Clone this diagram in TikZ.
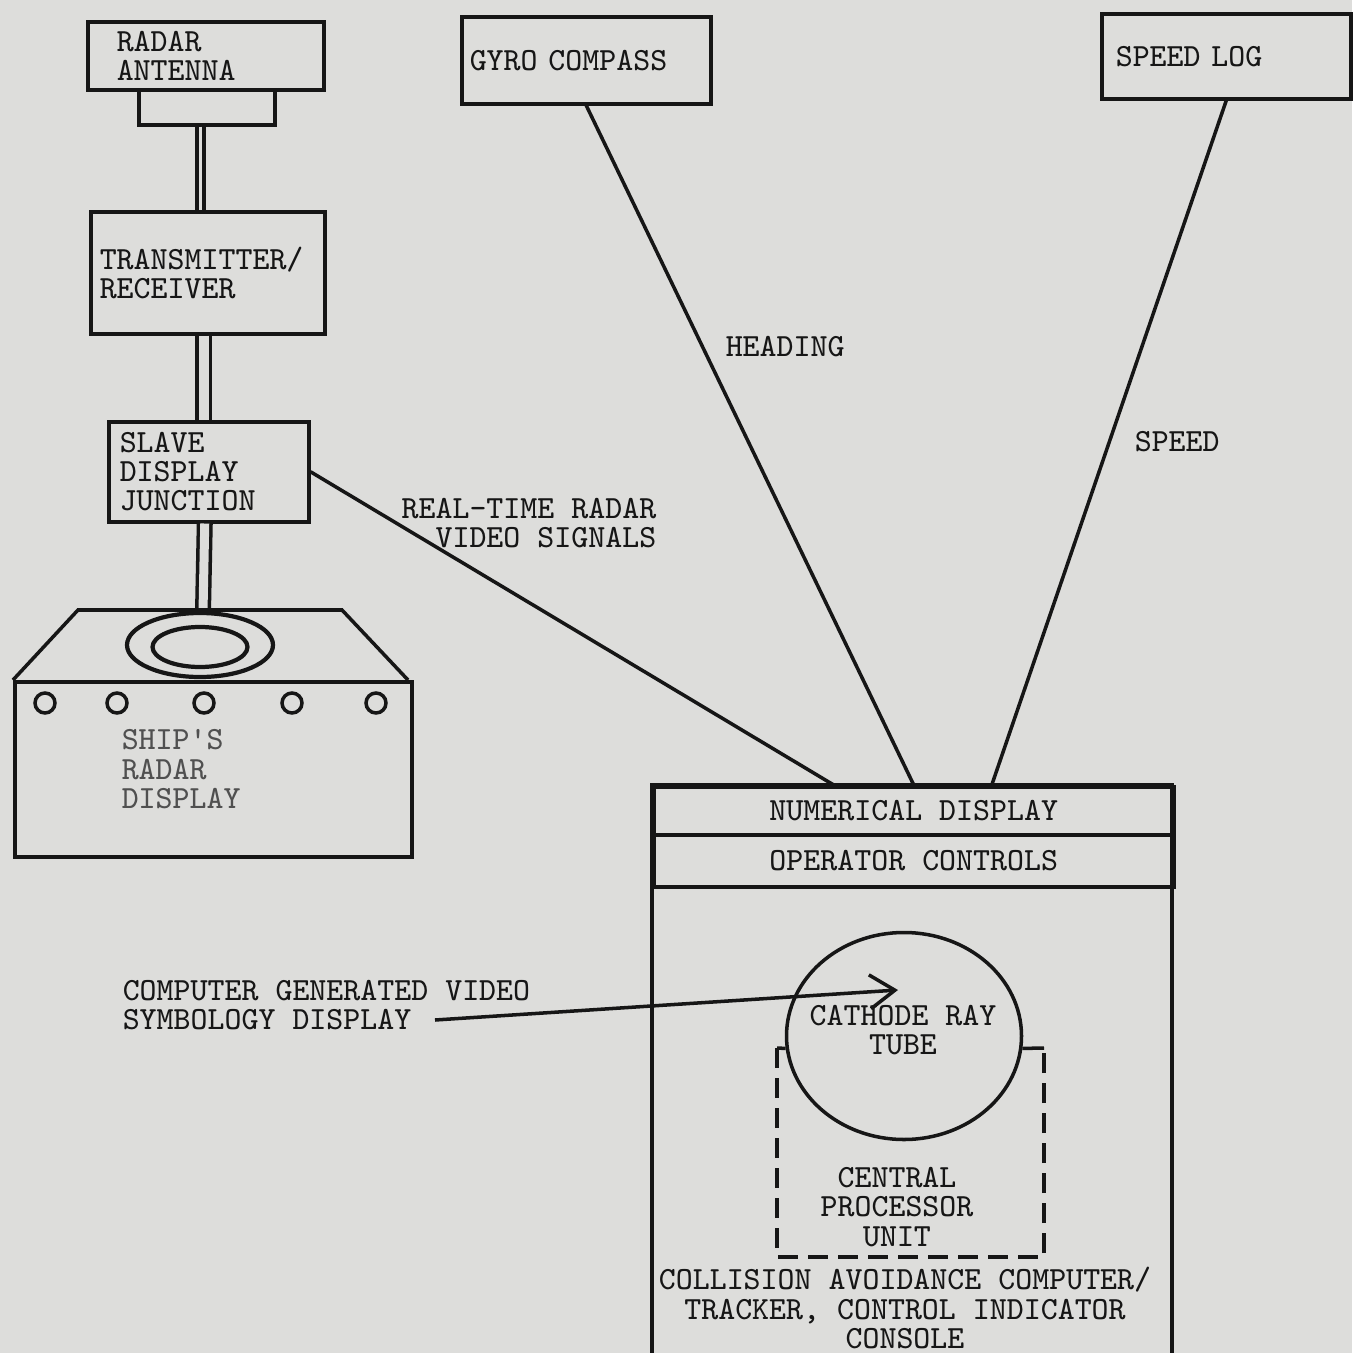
\documentclass[tikz,border=0pt]{standalone}
\usepackage{fontspec}
\usepackage{tikz}
\usetikzlibrary{positioning,arrows.meta,shapes.geometric}
\definecolor{paper}{RGB}{221,221,219}
\definecolor{ink}{RGB}{22,22,22}

\begin{document}
\begin{tikzpicture}[x=0.1mm, y=-0.1mm, line width=1pt, draw=ink,
    every node/.style={font=\ttfamily\fontsize{9.2}{8.3}\selectfont, text=ink, inner sep=0pt},
    unit/.style={draw, rectangle, anchor=north west, align=left, inner ysep=0pt},
    panel/.style={draw, rectangle, anchor=north west, inner sep=0pt},
    cable/.style={double=paper}]
    \useasboundingbox (0,0) rectangle (1352,1353);
    \fill[paper] (0,0) rectangle (1352,1353);

    % radar chain
    \node[unit, text width=17.8mm, inner xsep=2.9mm, minimum height=6.8mm] (ant) at (86,20) {RADAR\\ANTENNA};
    \node[panel, minimum width=13.6mm, minimum height=3.5mm] (antbase) at (137,88) {};
    \node[unit, text width=21.6mm, inner xsep=0.9mm, minimum height=12.2mm] (trx) at (89,210) {TRANSMITTER/\\RECEIVER};
    \node[unit, text width=17.8mm, inner xsep=1.1mm, minimum height=10mm] (slave) at (107,420) {SLAVE\\DISPLAY\\JUNCTION};
    \coordinate (dtop) at (203,612);

    \draw[cable, double distance=0.35mm] ([xshift=-0.65mm]antbase.south) -- ([xshift=-0.65mm]antbase.south |- trx.north);
    \draw[cable, double distance=0.95mm] ([xshift=-0.4mm]trx.south) -- ([xshift=-0.4mm]trx.south |- slave.north);
    \draw[cable, double distance=0.9mm] ([xshift=-0.4mm]slave.south) -- (dtop);

    % ship's radar display
    \draw (13,680) -- (78,610) -- (342,610) -- (408,680);
    \node[unit, text width=18.3mm, inner xsep=10.7mm, minimum height=17.5mm, text=ink!75] (shipdisp) at (13,680) {SHIP'S\\RADAR\\DISPLAY};
    \draw[line width=1.2pt] (200,645) ellipse [x radius=7.3mm, y radius=3.2mm];
    \draw[line width=1.2pt] (200,647) ellipse [x radius=4.75mm, y radius=2mm];
    \foreach \kx in {45,117,204,292,376}
        \draw (\kx,703) circle [radius=1mm];

    % sensors
    \node[unit, text width=23.3mm, inner xsep=0.8mm, minimum height=8.7mm] (gyro) at (460,15) {GYRO COMPASS};
    \node[unit, text width=22.1mm, inner xsep=1.4mm, minimum height=8.5mm] (log) at (1100,12) {SPEED LOG};

    % console
    \draw (652,785) rectangle (1172,1365);
    \node[panel, minimum width=52mm, minimum height=4.8mm] (numdisp) at (652,785) {NUMERICAL DISPLAY};
    \node[panel, minimum width=52mm, minimum height=5.2mm] (opctl) at (652,833) {OPERATOR CONTROLS};
    \node[draw, ellipse, minimum width=23.5mm, minimum height=20.7mm, inner sep=0pt] (crt) at (904,1036) {};
    \node[align=center] (crtlabel) at (903,1030) {CATHODE RAY\\TUBE};
    \draw (crt.186) -- (777,1048);
    \draw[dash pattern=on 2mm off 1mm] (777,1048) -- (777,1257) -- (1044,1257) -- (1044,1048);
    \draw (1044,1048) -- (crt.354);
    \node[align=center] (cpu) at (897,1207) {CENTRAL\\PROCESSOR\\UNIT};
    \node[align=center] (conslabel) at (905,1308) {COLLISION AVOIDANCE COMPUTER/\\TRACKER, CONTROL INDICATOR\\CONSOLE};

    % signals
    \draw (slave.east) -- ([xshift=-8mm]numdisp.north);
    \draw (gyro.south) -- (numdisp.north);
    \draw (log.south) -- ([xshift=7.8mm]numdisp.north);
    \node[anchor=east, align=right] (rtlabel) at (658,523) {REAL-TIME RADAR\\VIDEO SIGNALS};
    \node[anchor=west] (hdg) at (724,347) {HEADING};
    \node[anchor=west] (spd) at (1133,442) {SPEED};

    \node[anchor=west, align=left] (cgv) at (121,1005) {COMPUTER GENERATED VIDEO\\SYMBOLOGY DISPLAY};
    \coordinate (cgvend) at (435,1020);
    \draw[-{Straight Barb[length=2.5mm, width=3.4mm]}] (cgvend) -- ([xshift=-0.6mm, yshift=4.6mm]crt.center);
\end{tikzpicture}
\end{document}
